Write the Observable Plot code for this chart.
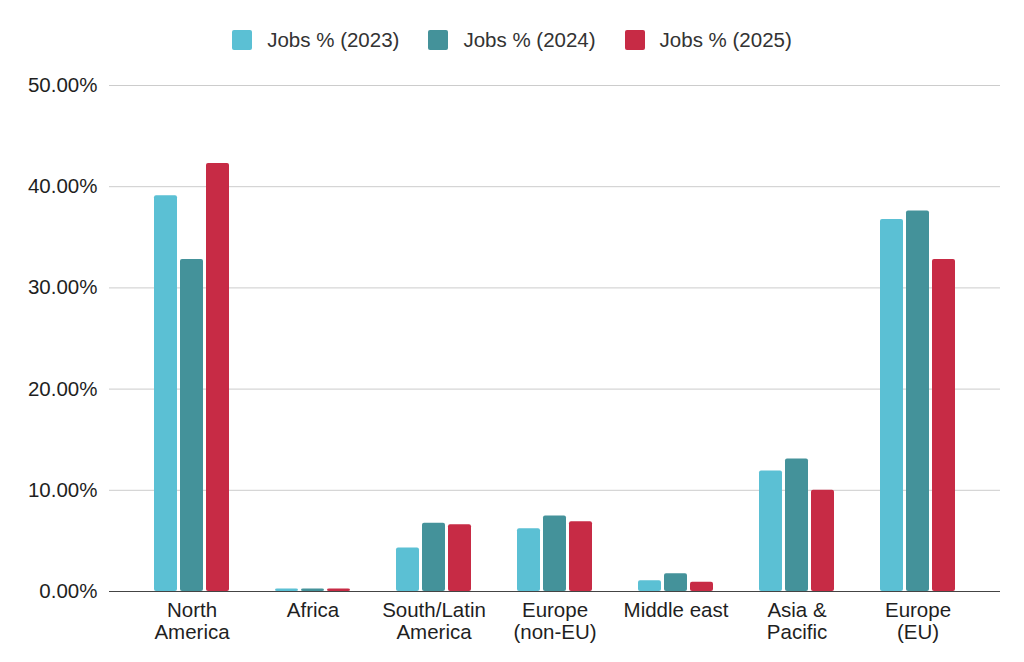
<!DOCTYPE html>
<html><head><meta charset="utf-8">
<script src="https://cdn.jsdelivr.net/npm/d3@7"></script>
<script src="https://cdn.jsdelivr.net/npm/@observablehq/plot@0.6"></script>
<style>
body{margin:0;background:#fff;font-family:"Liberation Sans",Arial,sans-serif;}
#legend{height:66px;display:flex;align-items:center;justify-content:center;padding-top:14px;box-sizing:border-box;}
#legend > div{margin:0 !important;}
#legend span{margin-right:29px !important;}
#legend span:last-child{margin-right:0 !important;}
#legend span > svg{margin-right:15px !important;}
#legend rect{rx:2px;ry:2px;}
</style></head><body>
<div id="legend"></div><div id="chart"></div>
<script>
const regions = ["North America","Africa","South/Latin America","Europe (non-EU)","Middle east","Asia & Pacific","Europe (EU)"];
const regionLabels = ["North\nAmerica","Africa","South/Latin\nAmerica","Europe\n(non-EU)","Middle east","Asia &\nPacific","Europe\n(EU)"];
const years = ["Jobs % (2023)","Jobs % (2024)","Jobs % (2025)"];
const jobs2023 = [39.1, 0.25, 4.3, 6.2, 1.06, 11.9, 36.75];
const jobs2024 = [32.8, 0.25, 6.75, 7.45, 1.75, 13.1, 37.6];
const jobs2025 = [42.3, 0.25, 6.6, 6.9, 0.92, 10.0, 32.8];
const yTicks = [0, 10, 20, 30, 40, 50];
const colors = ["#5bc0d4", "#44929a", "#c72b45"];

const series = [jobs2023, jobs2024, jobs2025];
const labelOf = new Map(regions.map((r, i) => [r, regionLabels[i]]));
const font = {fontFamily: "'Liberation Sans', Arial, sans-serif", fontSize: "20.5px", color: "#1f1f1f"};

const legend = Plot.legend({
  color: {type: "ordinal", domain: years, range: colors},
  swatchSize: 20,
  style: {...font, color: "#333"}
});
document.getElementById("legend").append(legend);

const offsets = [-26, 0, 26];
const chart = Plot.plot({
  width: 1024,
  height: 596,
  marginTop: 19,
  marginBottom: 71,
  marginLeft: 109,
  marginRight: 24,
  style: font,
  x: {domain: regions, paddingInner: 0.81, paddingOuter: 0.572, label: null},
  y: {domain: [0, 50], label: null},
  color: {domain: years, range: colors},
  marks: [
    Plot.gridY(yTicks, {stroke: "#cccccc", strokeOpacity: 1}),
    ...series.map((vals, k) => Plot.barY(regions, {
      x: d => d,
      y: (d, i) => vals[i],
      fill: () => years[k],
      dx: offsets[k],
      rx: 2
    })),
    Plot.ruleY([0], {stroke: "#444"}),
    Plot.axisY({ticks: yTicks, tickSize: 0, tickPadding: 12, tickFormat: d => d.toFixed(2) + "%", label: null}),
    Plot.axisX({tickSize: 0, tickPadding: 10, tickFormat: d => labelOf.get(d), lineHeight: 1.07, label: null})
  ]
});
document.getElementById("chart").append(chart);
</script>
</body></html>
